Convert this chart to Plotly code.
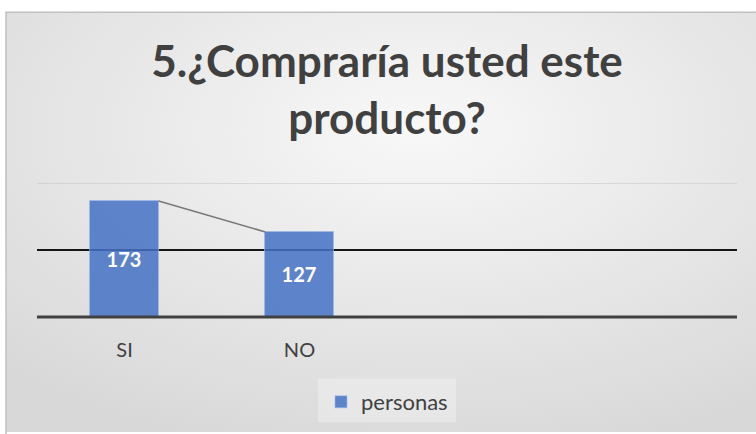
import base64
import plotly.graph_objects as go

categories = ["SI", "NO"]
values = [173, 127]
series_name = "personas"
n_slots = 4
y_max = 200
grid_values = [100, 200]

W, H = 756, 434
ML, MR, MT, MB = 37, 19, 183, 116
PW, PH = W - ML - MR, H - MT - MB

def px_x(p):
    return (p - ML) / PW

def px_y(p):
    return (H - MB - p) / PH

bar_w = 0.39
xs = list(range(len(categories)))

fig = go.Figure()
fig.add_trace(go.Bar(
    x=xs, y=values, width=bar_w, name=series_name,
    marker=dict(color="rgba(68,114,196,0.85)", line=dict(color="rgba(160,185,230,0.6)", width=1)),
    text=[str(v) for v in values], textposition="inside", insidetextanchor="middle",
    textfont=dict(family="Lato", size=20, color="white", weight="bold"),
    hoverinfo="skip",
))
# series line connecting bar tops
for i in range(len(values) - 1):
    fig.add_trace(go.Scatter(
        x=[xs[i] + bar_w / 2, xs[i + 1] - bar_w / 2], y=[values[i], values[i + 1]],
        mode="lines", line=dict(color="#777777", width=1.5), showlegend=False, hoverinfo="skip",
    ))

svg = ("<svg xmlns='http://www.w3.org/2000/svg' width='750' height='423'>"
       "<defs><radialGradient id='g' cx='0.55' cy='0.28' r='0.8'>"
       "<stop offset='0' stop-color='#f8f8f8'/><stop offset='1' stop-color='#d8d8d8'/>"
       "</radialGradient></defs><rect width='750' height='423' fill='url(#g)'/></svg>")
src = "data:image/svg+xml;base64," + base64.b64encode(svg.encode()).decode()

shapes = []
# frame border
shapes.append(dict(type="rect", xref="paper", yref="paper",
                   x0=px_x(6), x1=px_x(760), y0=px_y(11), y1=px_y(440),
                   line=dict(color="#c0c0c0", width=1.5), fillcolor="rgba(0,0,0,0)", layer="below"))
# gridlines
grid_styles = {100: ("#151515", 2), 200: ("#c4c4c4", 1.2)}
for gv in grid_values:
    c, w = grid_styles[gv]
    shapes.append(dict(type="line", xref="paper", yref="y", x0=0, x1=1, y0=gv, y1=gv,
                       line=dict(color=c, width=w), layer="below"))
# category axis line
shapes.append(dict(type="line", xref="paper", yref="paper", x0=0, x1=1, y0=0, y1=0,
                   line=dict(color="#404040", width=3), layer="above"))
# legend box
shapes.append(dict(type="rect", xref="paper", yref="paper",
                   x0=px_x(318), x1=px_x(456), y0=px_y(380), y1=px_y(424),
                   line=dict(width=0), fillcolor="rgba(255,255,255,0.3)", layer="below"))

fig.update_layout(
    width=W, height=H,
    margin=dict(l=ML, r=MR, t=MT, b=MB),
    paper_bgcolor="white", plot_bgcolor="rgba(0,0,0,0)",
    images=[dict(source=src, xref="paper", yref="paper", x=px_x(6), y=px_y(11),
                 sizex=750 / PW, sizey=423 / PH, xanchor="left", yanchor="top",
                 sizing="stretch", layer="below")],
    shapes=shapes,
    title=dict(text="5.¿Compraría usted este<br>producto?", x=0.5, xref="paper", xanchor="center",
               y=1 - 77 / H, yref="container", yanchor="middle",
               font=dict(family="Lato", size=44, color="#404040", weight="bold")),
    xaxis=dict(range=[-0.5, n_slots - 0.5], tickvals=xs, ticktext=categories,
               showgrid=False, zeroline=False, showline=False, ticks="",
               tickfont=dict(family="Lato", size=20, color="#404040"), ticklabelstandoff=19),
    yaxis=dict(range=[0, y_max], visible=False, showgrid=False, zeroline=False),
    legend=dict(orientation="h", x=0.5, xanchor="center", y=px_y(402), yanchor="middle",
                bgcolor="rgba(0,0,0,0)", font=dict(family="Lato", size=22, color="#404040")),
    showlegend=True,
    bargap=0,
)

fig.write_html("out.html", config={"displayModeBar": False},
               post_script="document.body.style.margin='0px';")
